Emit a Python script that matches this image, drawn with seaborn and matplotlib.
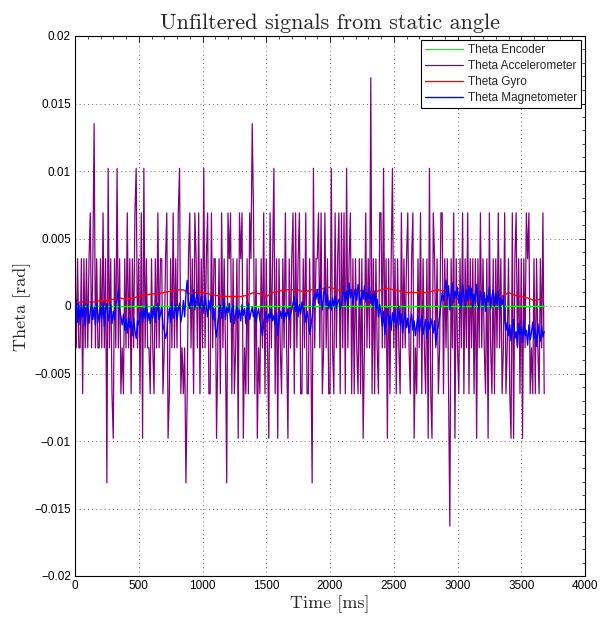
import numpy as np
import pandas as pd
import matplotlib
matplotlib.use("Agg")
import matplotlib.pyplot as plt
from matplotlib.ticker import AutoMinorLocator, FixedLocator
import seaborn as sns

# ---------------- data ----------------
# accelerometer: quantised levels, one code per 10 ms sample
acc_levels = {'q': -0.0163, 'n': -0.0131, 'm': -0.0098, 'M': -0.0065, '-': -0.0031,
              '0': 0.0002, '+': 0.0035, 'P': 0.0069, '2': 0.0102, '3': 0.0135, '4': 0.0169}
accel_groups = [
    "+-+--+M+-+", "-+P-+3-+--", "+-P-+n2-+M", "m+-2-+M-M+", "-P-+M+-P2-",
    "+MPm2-+--M", "+-M+-P-++M", "-+PmM+-P-+", "-P2M-M-nM+", "P-+MP+-PM+",
    "-2-+PMMP-+", "+m-+MP-+-n", "P+PM+M-+mP", "+Pm-M+MP+3", "PM+m-M+-PM",
    "+-mP-+2M+m", "+-M+-P-m+-", "+PMP-+PMM+", "-PMM+-n2-+", "+P-PM-P-+M",
    "M2-MP-+PMP", "-PM2-+PM+M", "+-M+M+m-P-", "+-4M+M+-MP", "P-2-+m+M+2",
    "-+M+-MP-+-", "+P-M+Pm-M+", "-PM+-M+m2M", "mP+-+M-PPM", "+-+Mq+-Pm+",
    "-M+-PM+-PM", "+-+M+m+-P-", "+-M+mP-M+M", "+-P-+M-PM-", "+MmPm+P-+M",
    "+m+-P+PM-M", "+M+-M+-PM",
]
accel = [acc_levels[c] for c in "".join(accel_groups)]

# magnetometer, units of 1e-4 rad, one value per 10 ms sample
magnet_e4 = [
    -3, 4, -12, 2, -14, 0, -8, 3, -15, -2,
    1, -13, -4, 3, -10, -1, -14, 2, -6, -12,
    0, -9, 3, -15, -3, 2, -11, -5, 1, -13,
    -4, -10, 2, 5, 12, -2, -8, -14, -6, -18,
    -10, -20, -8, -16, -12, -22, -9, -18, -24, -11,
    -14, -6, -3, -12, -2, -9, 1, -11, -5, -13,
    -2, -9, 0, -12, -4, 2, -10, -6, -1, -14,
    -18, -24, -20, -8, -2, -12, 3, -9, -4, 1,
    -10, -3, 2, -12, -6, 4, -8, 9, 19, 3,
    -2, 8, 0, 12, -3, 6, 10, 1, -2, 7,
    2, -5, 9, 0, -8, 4, -3, 8, -10, -2,
    -16, -23, -12, -6, 1, -9, -3, 5, -10, -1,
    -5, 2, -12, -4, 1, -13, -6, 0, -9, -3,
    -11, 1, -7, -2, -13, -4, 2, -10, -5, -1,
    -8, -3, -12, -6, -2, -10, -15, -22, -12, -7,
    -4, -12, -6, -9, -2, -11, -7, -14, -5, -22,
    -10, -4, -9, -1, -12, -5, -8, -2, -10, -6,
    -3, 2, 7, -4, 5, -8, 1, -6, 3, -2,
    -5, -12, -4, -10, -21, -15, -8, 3, 10, 5,
    12, 2, 17, 6, -3, 9, 14, 1, 8, -2,
    4, -3, 6, 0, 7, -2, 3, 5, -3, 2,
    8, 14, 3, 11, 0, 17, 6, 12, 2, 9,
    13, 4, 16, 7, 1, 12, 5, 15, 3, 10,
    6, 14, 2, 9, 0, 11, -3, 5, -8, 1,
    -6, -15, -4, -21, -9, -2, -14, -7, -18, -5,
    -12, -3, -17, -8, 0, -14, -6, -20, -10, -4,
    -16, -9, -20, -12, -6, -18, -11, -22, -14, -8,
    -19, -13, -7, -21, -15, -10, -24, -12, -17, -9,
    -14, -20, -11, -29, -18, -15, -8, 2, 10, 4,
    12, 19, 5, 15, -3, 9, 17, 3, 11, 6,
    14, 2, 10, -2, 16, 7, 0, 12, 4, 15,
    5, 13, -1, 9, 2, 16, 4, -3, 11, 6,
    1, 10, -4, 8, 3, 14, -2, 7, 12, 0,
    9, 2, 11, -3, 6, 1, 8, -10, -18, -12,
    -22, -14, -26, -17, -10, -24, -19, -30, -13, -21,
    -16, -27, -11, -22, -18, -29, -14, -25, -20, -12,
    -24, -17, -30, -13, -21, -26, -15, -23, -19,
]

# gyro, units of 1e-4 rad, one value per 50 ms
gyro_e4 = [2, 3, 3, 3, 4, 4, 5, 6, 5, 6,
           7, 8, 9, 9, 10, 11, 12, 12, 9, 10,
           10, 9, 8, 7, 7, 7, 7, 8, 10, 9,
           7, 10, 11, 12, 12, 12, 10, 12, 12, 13,
           14, 12, 11, 12, 12, 11, 10, 10, 12, 13,
           12, 11, 10, 10, 10, 10, 11, 12, 11, 7,
           5, 3, 3, 4, 5, 5, 7, 7, 10, 8,
           7, 6, 4, 5]

# encoder: constant zero
encoder_t = [0, 3680]
encoder = [0.0, 0.0]

x_ticks = [0, 500, 1000, 1500, 2000, 2500, 3000, 3500, 4000]
x_labels = ["0", "500", "1000", "1500", "2000", "2500", "3000", "3500", "4000"]
y_ticks = [-0.02, -0.015, -0.01, -0.005, 0.0, 0.005, 0.01, 0.015, 0.02]
y_labels = ["\u22120.02", "\u22120.015", "\u22120.01", "\u22120.005", "0",
            "0.005", "0.01", "0.015", "0.02"]

title = "Unfiltered signals from static angle"
xlabel = "Time [ms]"
ylabel = "Theta [rad]"
names = ["Theta Encoder", "Theta Accelerometer", "Theta Gyro", "Theta Magnetometer"]
colors = ["#00ff00", "#800080", "#ff0000", "#0000ff"]

# ---------------- build frames ----------------
df_acc = pd.DataFrame({"t": np.arange(len(accel)) * 10, "v": accel})
df_mag = pd.DataFrame({"t": np.arange(len(magnet_e4)) * 10, "v": np.array(magnet_e4) * 1e-4})
df_gyr = pd.DataFrame({"t": np.arange(len(gyro_e4)) * 50, "v": np.array(gyro_e4) * 1e-4})
df_enc = pd.DataFrame({"t": encoder_t, "v": encoder})

# ---------------- style ----------------
sns.set_theme(style="white")
plt.rcParams["font.family"] = ["Liberation Sans", "DejaVu Sans"]
plt.rcParams["axes.unicode_minus"] = True

fig = plt.figure(figsize=(6.04, 6.18), dpi=100)
ax = fig.add_axes([75 / 604, 1 - 576 / 618, 510 / 604, 540 / 618])

common = dict(x="t", y="v", ax=ax, estimator=None, sort=False)
sns.lineplot(data=df_enc, color=colors[0], lw=1.0, label=names[0], zorder=3, **common)
sns.lineplot(data=df_acc, color=colors[1], lw=0.9, label=names[1], zorder=2, **common)
sns.lineplot(data=df_gyr, color=colors[2], lw=1.0, label=names[2], zorder=4, **common)
sns.lineplot(data=df_mag, color=colors[3], lw=1.0, label=names[3], zorder=5, **common)

ax.set_xlim(0, 4000)
ax.set_ylim(-0.02, 0.02)
ax.xaxis.set_major_locator(FixedLocator(x_ticks))
ax.set_xticklabels(x_labels)
ax.yaxis.set_major_locator(FixedLocator(y_ticks))
ax.set_yticklabels(y_labels)
ax.xaxis.set_minor_locator(AutoMinorLocator(5))
ax.yaxis.set_minor_locator(AutoMinorLocator(5))
ax.tick_params(which="both", direction="in", top=True, right=True,
               labelsize=8.5, colors="black", pad=3)
ax.tick_params(which="major", length=4, width=0.6)
ax.tick_params(which="minor", length=2, width=0.5)
for s in ax.spines.values():
    s.set_color("black")
    s.set_linewidth(0.8)

ax.grid(True, which="major", ls=(0, (1, 4)), color="0.25", lw=0.6)

ax.set_title(title, fontfamily="cmr10", fontsize=16, pad=5)
ax.set_xlabel(xlabel, fontfamily="cmr10", fontsize=13, labelpad=2)
ax.set_ylabel(ylabel, fontfamily="cmr10", fontsize=13, labelpad=2)

leg = ax.legend(loc="upper right", fontsize=8.5, frameon=True, fancybox=False,
                framealpha=1, edgecolor="black", borderaxespad=0.35,
                handlelength=3.3, handletextpad=0.4, labelspacing=0.35, borderpad=0.3)
leg.get_frame().set_linewidth(0.8)

fig.savefig("out.png", dpi=100)
